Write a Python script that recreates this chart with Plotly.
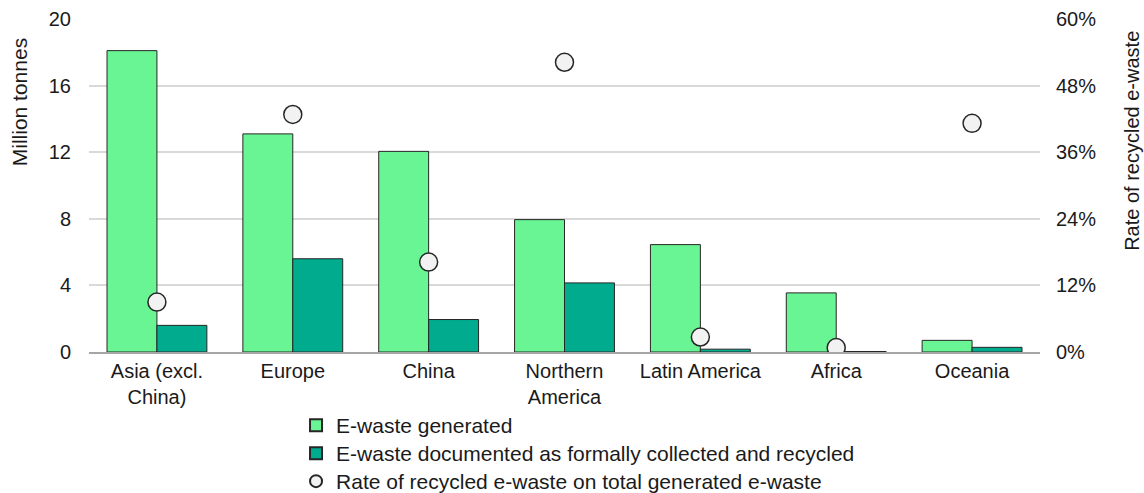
import plotly.graph_objects as go

# Regional e-waste figures
regions = ["Asia (excl.<br>China)", "Europe", "China", "Northern<br>America",
           "Latin America", "Africa", "Oceania"]
generated = [18.1, 13.1, 12.05, 7.95, 6.45, 3.55, 0.7]
recycled = [1.6, 5.6, 1.95, 4.15, 0.17, 0.03, 0.28]
recycling_rate = [0.09, 0.428, 0.162, 0.522, 0.027, 0.008, 0.412]

left_ticks = [0, 4, 8, 12, 16, 20]
right_ticks = [0, 0.12, 0.24, 0.36, 0.48, 0.60]

FONT = "Liberation Sans, Arial, sans-serif"
TEXT = "#1a1a1a"

fig = go.Figure()
fig.add_trace(go.Bar(
    x=regions, y=generated, name="E-waste generated", legend="legend",
    marker=dict(color="#69f593", line=dict(color="#262626", width=1)),
))
fig.add_trace(go.Bar(
    x=regions, y=recycled, legend="legend2",
    name="E-waste documented as formally collected and recycled",
    marker=dict(color="#00ab8e", line=dict(color="#262626", width=1)),
))
fig.add_trace(go.Scatter(
    x=regions, y=recycling_rate, yaxis="y2", mode="markers",
    legend="legend3",
    name="Rate of recycled e-waste on total generated e-waste",
    marker=dict(symbol="circle", size=18, color="#f2f2f2",
                line=dict(color="#262626", width=1.5)),
))


def legend_row(top):
    # one legend box per row, stacked under the category labels
    return dict(
        xref="paper", yref="container",
        x=0.2177, y=top, xanchor="left", yanchor="top",
        orientation="v", bgcolor="rgba(0,0,0,0)",
        font=dict(size=21, color=TEXT), itemwidth=30,
        itemsizing="constant", tracegroupgap=0,
    )


fig.update_layout(
    width=1144, height=493,
    margin=dict(l=89, r=104, t=19, b=141, autoexpand=False),
    paper_bgcolor="white", plot_bgcolor="white",
    font=dict(family=FONT, size=20, color=TEXT),
    barmode="group", bargap=0.265, bargroupgap=0,
    showlegend=True,
    legend=legend_row(0.1785),
    legend2=legend_row(0.1217),
    legend3=legend_row(0.0649),
    xaxis=dict(
        showgrid=False, showline=True, linecolor="#a6a6a6", linewidth=1.5,
        ticks="", tickfont=dict(size=20, color=TEXT), automargin=False,
    ),
    yaxis=dict(
        range=[0, 20], tickvals=left_ticks, showgrid=True,
        gridcolor="#d9d9d9", gridwidth=1.5, zeroline=False, showline=False,
        ticks="", ticklabelstandoff=17, tickfont=dict(size=20, color=TEXT),
        automargin=False,
    ),
    yaxis2=dict(
        range=[0, 0.6], tickvals=right_ticks, tickformat=".0%",
        overlaying="y", side="right", showgrid=False, zeroline=False,
        showline=False, ticks="", ticklabelstandoff=15,
        tickfont=dict(size=20, color=TEXT), automargin=False,
    ),
    annotations=[
        dict(text="Million tonnes", textangle=-90, xref="paper", yref="paper",
             x=-0.0736, y=0.75, xanchor="center", yanchor="middle",
             showarrow=False, font=dict(size=21, color=TEXT)),
        dict(text="Rate of recycled e-waste", textangle=-90, xref="paper",
             yref="paper", x=1.0967, y=0.634, xanchor="center",
             yanchor="middle", showarrow=False,
             font=dict(size=20, color=TEXT)),
    ],
)

fig.write_html("out.html")
